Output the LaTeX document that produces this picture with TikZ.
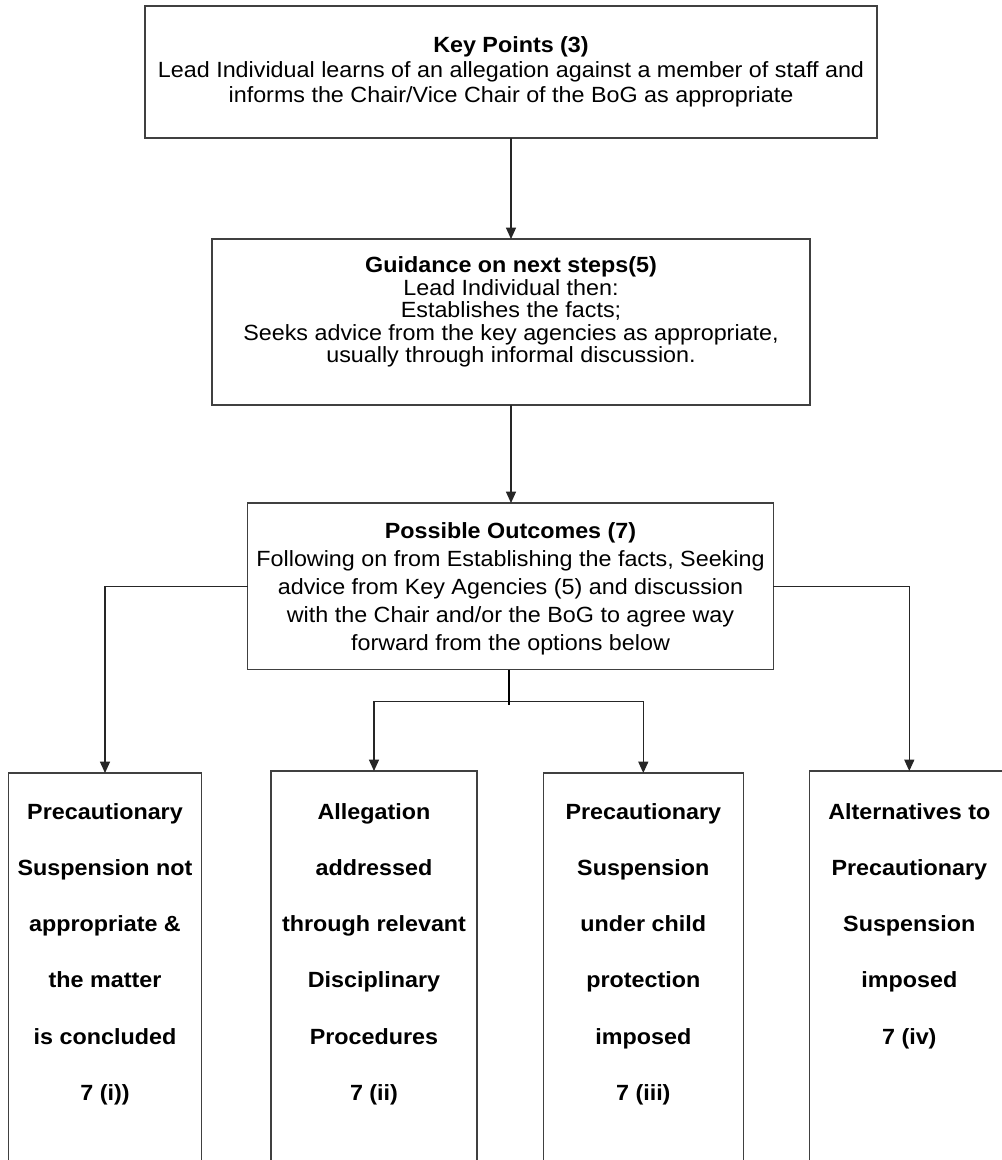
\documentclass[tikz,border=0pt]{standalone}
\usepackage{fontspec}
\setmainfont{Liberation Sans}[FakeStretch=1.06]
\usetikzlibrary{arrows.meta}
\begin{document}
\begin{tikzpicture}[x=0.75pt,y=-0.75pt,
  box/.style={draw=black!75, line width=0.9pt, inner sep=0pt, outer sep=0pt, anchor=north, rectangle},
  txt/.style={align=center, inner sep=0pt, text=black},
  conn/.style={draw=black!85, line width=0.9pt},
  arr/.style={conn, -{Triangle[length=8.5pt,width=7.5pt]}},
  stubline/.style={draw=black, line width=2.2pt},
  midfont/.style={font=\fontsize{16.5}{#1}\selectfont},
  lowfont/.style={font=\bfseries\fontsize{16.5}{42.2}\selectfont}
]
\fill[white] (0,0) rectangle (1002,1160);
\useasboundingbox (0,0) rectangle (1002,1160);
\clip (0,0) rectangle (1002,1160);

% main boxes
\node[box, minimum width=732*0.75pt, minimum height=132*0.75pt] (k1) at (511,6) {};
\node[box, minimum width=598*0.75pt, minimum height=166*0.75pt] (k2) at (511,239) {};
\node[box, minimum width=525.5*0.75pt, minimum height=166.5*0.75pt] (k3) at (510.5,503) {};

% outcome boxes (run off the bottom of the page)
\node[box, minimum width=193.4*0.75pt, minimum height=420*0.75pt] (c1) at (105,773) {};
\node[box, minimum width=206*0.75pt, minimum height=420*0.75pt] (c2) at (374,771) {};
\node[box, minimum width=200*0.75pt, minimum height=420*0.75pt] (c3) at (643.3,773) {};
\node[box, minimum width=200*0.75pt, minimum height=420*0.75pt] (c4) at (909.3,771) {};

% texts
\node[txt, midfont=18.75] (t1) at (511,72)
  {\textbf{Key Points (3)}\\Lead Individual learns of an allegation against a member of staff and\\informs the Chair/Vice Chair of the BoG as appropriate};
\node[txt, midfont=16.9] (t2) at (511,312)
  {\textbf{Guidance on next steps(5)}\\Lead Individual then:\\Establishes the facts;\\Seeks advice from the key agencies as appropriate,\\usually through informal discussion.};
\node[txt, midfont=21] (t3) at (510.5,588.5)
  {\textbf{Possible Outcomes (7)}\\Following on from Establishing the facts, Seeking\\advice from Key Agencies (5) and discussion\\with the Chair and/or the BoG to agree way\\forward from the options below};

\node[txt, lowfont] (u1) at (105,954)
  {Precautionary\\Suspension not\\appropriate \&\\the matter\\is concluded\\7 (i))};
\node[txt, lowfont] (u2) at (374,954)
  {Allegation\\addressed\\through relevant\\Disciplinary\\Procedures\\7 (ii)};
\node[txt, lowfont] (u3) at (643.3,954)
  {Precautionary\\Suspension\\under child\\protection\\imposed\\7 (iii)};
\node[txt, lowfont] (u4) at (909.3,926)
  {Alternatives to\\Precautionary\\Suspension\\imposed\\7 (iv)};

% connectors
\coordinate (jn) at (509,701.6);
\coordinate (stubend) at (509,705);
\draw[arr] (k1.south) -- (k2.north);
\draw[arr] (k2.south) -- (k2.south |- k3.north);
\draw[arr] (k3.west) -| (c1.north);
\draw[arr] (k3.east) -| (c4.north);
\draw[arr] (jn) -| (c2.north);
\draw[arr] (jn) -| (c3.north);
\draw[stubline] (k3.south -| jn) -- (stubend);
\end{tikzpicture}
\end{document}
